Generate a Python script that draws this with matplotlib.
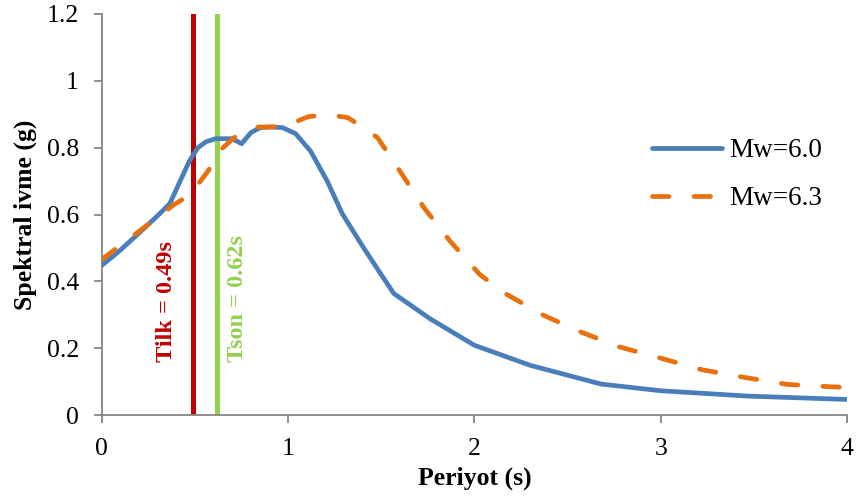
import matplotlib
matplotlib.use('Agg')
from matplotlib import pyplot as plt

# periyot (s) and spectral acceleration (g)
t_60 = [0.0, 0.1, 0.2, 0.3, 0.365, 0.42, 0.47, 0.515, 0.56, 0.61, 0.66, 0.70, 0.75,
        0.80, 0.85, 0.90, 0.97, 1.04, 1.12, 1.21, 1.29, 1.40, 1.50, 1.567, 1.76,
        2.0, 2.3, 2.68, 3.0, 3.47, 4.0]
sa_60 = [0.448, 0.494, 0.545, 0.597, 0.633, 0.70, 0.76, 0.80, 0.818, 0.827, 0.827,
         0.827, 0.812, 0.845, 0.860, 0.862, 0.860, 0.842, 0.790, 0.700, 0.603,
         0.505, 0.420, 0.364, 0.289, 0.209, 0.149, 0.093, 0.073, 0.057, 0.047]

t_63 = [0.0, 0.1, 0.2, 0.3, 0.38, 0.446, 0.515, 0.57, 0.63, 0.71, 0.78, 0.84, 0.91,
        1.0, 1.06, 1.11, 1.18, 1.25, 1.32, 1.40, 1.48, 1.60, 1.73, 1.87, 2.03, 2.165,
        2.37, 2.57, 2.78, 3.01, 3.22, 3.46, 3.68, 3.91, 4.0]
sa_63 = [0.466, 0.508, 0.550, 0.592, 0.627, 0.650, 0.690, 0.730, 0.790, 0.830,
         0.850, 0.862, 0.862, 0.868, 0.882, 0.893, 0.897, 0.896, 0.890, 0.862, 0.830,
         0.730, 0.620, 0.520, 0.420, 0.364, 0.299, 0.249, 0.204, 0.169, 0.136,
         0.112, 0.092, 0.085, 0.083]

t_ilk = 0.49
t_son = 0.62

plt.rcParams['font.family'] = ['Liberation Serif', 'DejaVu Serif']

fig = plt.figure(figsize=(8.56, 4.99), dpi=100)
ax = fig.add_axes([0.119, 0.168, 0.8705, 0.804])

ax.plot(t_60, sa_60, color='#4A7EBB', lw=3.4, solid_capstyle='round',
        solid_joinstyle='round', label='Mw=6.0', zorder=3)
ax.plot(t_63, sa_63, color='#E8700D', lw=3.4, dashes=(3.5, 5.3),
        dash_capstyle='round', label='Mw=6.3', zorder=3)

ax.axvline(t_ilk, color='#C00000', lw=3.6, zorder=2)
ax.axvline(t_son, color='#92D050', lw=3.6, zorder=2)
ax.text(0.345, 0.34, 'Tilk = 0.49s', rotation=90, color='#C00000',
        fontsize=17.5, fontweight='bold', ha='center', va='center')
ax.text(0.727, 0.35, 'Tson = 0.62s', rotation=90, color='#92D050',
        fontsize=17.5, fontweight='bold', ha='center', va='center')

ax.set_xlim(0, 4)
ax.set_ylim(0, 1.2)
ax.set_xticks([0, 1, 2, 3, 4])
ax.set_yticks([0, 0.2, 0.4, 0.6, 0.8, 1.0, 1.2])
ax.set_yticklabels(['0', '0.2', '0.4', '0.6', '0.8', '1', '1.2'])
ax.tick_params(labelsize=18.5, colors='#868686', labelcolor='black', length=5.5,
               width=1.3, direction='out')
ax.tick_params(axis='y', pad=11)
ax.tick_params(axis='x', pad=11)
for s in ['top', 'right']:
    ax.spines[s].set_visible(False)
for s in ['left', 'bottom']:
    ax.spines[s].set_color('#868686')
    ax.spines[s].set_linewidth(1.3)

ax.set_xlabel('Periyot (s)', fontsize=18.5, fontweight='bold', labelpad=5)
ax.set_ylabel('Spektral ivme (g)', fontsize=18.5, fontweight='bold', labelpad=7)

ax.legend(loc='upper left', bbox_to_anchor=(0.738, 0.69), frameon=False,
          fontsize=19.5, handlelength=2.6, handletextpad=0.25, labelspacing=0.85,
          borderaxespad=0, borderpad=0)

fig.savefig('out.png', dpi=100)
